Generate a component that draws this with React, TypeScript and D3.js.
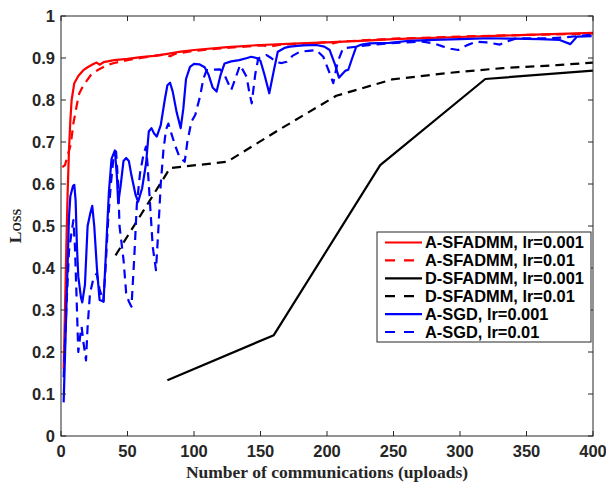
import React from "react";
import * as d3 from "d3";

const xTicks = [0, 50, 100, 150, 200, 250, 300, 350, 400];
const yTicks = [0, 0.1, 0.2, 0.3, 0.4, 0.5, 0.6, 0.7, 0.8, 0.9, 1];

const aSfadmm001: [number, number][] = [
  [2, 0.16], [3, 0.3], [4, 0.45], [5, 0.58], [6, 0.68], [7, 0.75], [8, 0.8], [10, 0.84], [13, 0.857],
  [16.8, 0.871], [20, 0.878], [24, 0.885], [26.8, 0.889], [29, 0.884], [32, 0.89], [40, 0.895], [50, 0.898],
  [60, 0.902], [70, 0.905], [80, 0.91], [90, 0.915], [100, 0.919], [125, 0.926], [150, 0.931], [175, 0.934],
  [200, 0.937], [225, 0.941], [250, 0.945], [300, 0.95], [350, 0.955], [400, 0.96],
];

const aSfadmm01: [number, number][] = [
  [1, 0.64], [3, 0.645], [5, 0.668], [7.3, 0.693], [9.3, 0.744], [12, 0.79], [13.8, 0.816], [16, 0.83],
  [18, 0.84], [23, 0.862], [28, 0.872], [34.6, 0.883], [40, 0.888], [50, 0.895], [60, 0.9], [70, 0.905],
  [78, 0.908], [82, 0.904], [86, 0.91], [100, 0.917], [125, 0.924], [150, 0.93], [158, 0.928], [165, 0.932],
  [190, 0.935], [200, 0.938], [205, 0.935], [210, 0.939], [250, 0.946], [300, 0.951], [350, 0.955], [400, 0.958],
];

const dSfadmm001: [number, number][] = [
  [80, 0.133], [160, 0.24], [240, 0.645], [319, 0.85], [400, 0.87],
];

const dSfadmm01: [number, number][] = [
  [41, 0.43], [82, 0.638], [125, 0.653], [166, 0.733], [207, 0.81], [249, 0.849], [290, 0.864],
  [332, 0.876], [373, 0.883], [400, 0.889],
];

const aSgd001: [number, number][] = [
  [2, 0.08], [4, 0.3], [6, 0.52], [7, 0.57], [9, 0.595], [10, 0.598], [11, 0.56], [12, 0.45], [13, 0.38],
  [15, 0.33], [16, 0.318], [18, 0.36], [20, 0.5], [22, 0.53], [23.5, 0.548], [25, 0.5], [27, 0.4], [29, 0.324],
  [32, 0.32], [34, 0.45], [36, 0.58], [38, 0.66], [40.5, 0.68], [42, 0.62], [43, 0.554], [45, 0.6], [47, 0.655],
  [49, 0.662], [51, 0.655], [53, 0.62], [56, 0.575], [58, 0.558], [61, 0.59], [64, 0.65], [66, 0.725], [68, 0.733],
  [70, 0.72], [72, 0.713], [75, 0.74], [78, 0.8], [80, 0.835], [82, 0.841], [84, 0.82], [87, 0.77], [90, 0.733],
  [92, 0.78], [94, 0.85], [97, 0.879], [100, 0.886], [104, 0.885], [108, 0.878], [111, 0.86], [114, 0.83],
  [117, 0.82], [120, 0.86], [123, 0.887], [128, 0.892], [134, 0.895], [140, 0.9], [143, 0.903], [147, 0.9],
  [150, 0.893], [153, 0.86], [156.6, 0.816], [160, 0.87], [163, 0.915], [168, 0.924], [172, 0.927], [182, 0.93],
  [192, 0.931], [198, 0.927], [202, 0.919], [206, 0.885], [209, 0.853], [211, 0.86], [214, 0.87], [216, 0.872],
  [219, 0.9], [222, 0.927], [226, 0.932], [232, 0.935], [247, 0.936], [262, 0.941], [280, 0.943], [300, 0.945],
  [322, 0.947], [340, 0.946], [360, 0.945], [375, 0.943], [383, 0.933], [388, 0.951], [399, 0.952],
];

const aSgd01: [number, number][] = [
  [2, 0.14], [4, 0.3], [6, 0.44], [8, 0.486], [9.3, 0.514], [10.5, 0.45], [12, 0.3], [13, 0.2], [14.5, 0.24],
  [15.5, 0.26], [17, 0.22], [18.8, 0.18], [20, 0.26], [21.8, 0.34], [24, 0.37], [26.8, 0.387], [29, 0.35],
  [31.8, 0.32], [33.5, 0.4], [35.6, 0.522], [37.5, 0.6], [39.3, 0.657], [41.4, 0.677], [43, 0.6], [44, 0.5],
  [47, 0.42], [49, 0.34], [51, 0.32], [53, 0.308], [55, 0.42], [57, 0.55], [59.4, 0.625], [62, 0.67],
  [63.9, 0.689], [65, 0.65], [67, 0.55], [69, 0.45], [71.4, 0.395], [73, 0.48], [75, 0.6], [77, 0.68],
  [79, 0.73], [80.7, 0.744], [83, 0.72], [86, 0.69], [89, 0.665], [93, 0.653], [95, 0.7], [98, 0.748],
  [101, 0.765], [104.5, 0.808], [107, 0.85], [109.5, 0.871], [114, 0.872], [119.5, 0.873], [122, 0.865],
  [124.6, 0.848], [128, 0.824], [131, 0.85], [134.6, 0.883], [137, 0.87], [139.6, 0.855], [141.5, 0.82],
  [143.4, 0.792], [146, 0.86], [148.3, 0.899], [152, 0.905], [154.6, 0.907], [158, 0.9], [162, 0.89],
  [166, 0.888], [169.7, 0.891], [174, 0.905], [179.7, 0.915], [186, 0.917], [192, 0.919], [197.2, 0.903],
  [200, 0.88], [202, 0.864], [204.7, 0.84], [208, 0.89], [212, 0.923], [222, 0.927], [235, 0.932],
  [247, 0.935], [260, 0.937], [272, 0.939], [280, 0.935], [287.5, 0.927], [293, 0.922], [298.7, 0.919],
  [305, 0.93], [312.5, 0.939], [320, 0.937], [330, 0.932], [336, 0.94], [342.6, 0.947], [355, 0.947],
  [367.7, 0.947], [377.7, 0.949], [388, 0.952], [398, 0.955],
];

const seriesNames = [
  "A-SFADMM, lr=0.001",
  "A-SFADMM, lr=0.01",
  "D-SFADMM, lr=0.001",
  "D-SFADMM, lr=0.01",
  "A-SGD, lr=0.001",
  "A-SGD, lr=0.01",
];
const seriesData = [aSfadmm001, aSfadmm01, dSfadmm001, dSfadmm01, aSgd001, aSgd01];
const seriesColors = ["#ff0000", "#ff0000", "#000000", "#000000", "#0000ff", "#0000ff"];
const seriesDashed = [false, true, false, true, false, true];

const W = 606;
const H = 483;
const L = 61;
const R = 593;
const T = 16;
const B = 436;
const AX = "#262626";
const DASH = "9,6";

export default function App() {
  const x = d3.scaleLinear().domain([0, 400]).range([L, R]);
  const y = d3.scaleLinear().domain([0, 1]).range([B, T]);
  const line = d3
    .line<[number, number]>()
    .x((d) => x(d[0]))
    .y((d) => y(d[1]));

  const tickFont = "'Liberation Sans', Arial, Helvetica, sans-serif";
  const serif = "'Liberation Serif', 'Times New Roman', serif";

  const legX = 377;
  const legY = 232;
  const legW = 214;
  const legH = 110;
  const rowY0 = 242.5;
  const rowDy = 17.9;

  return (
    <svg width={W} height={H} style={{ position: "absolute", left: 0, top: 0, background: "#fff" }}>
      <rect x={0} y={0} width={W} height={H} fill="#fff" />
      {seriesData.map((d, i) => (
        <path
          key={i}
          d={line(d) || ""}
          fill="none"
          stroke={seriesColors[i]}
          strokeWidth={2.2}
          strokeDasharray={seriesDashed[i] ? DASH : undefined}
          strokeLinejoin="round"
        />
      ))}
      <rect x={L} y={T} width={R - L} height={B - T} fill="none" stroke={AX} strokeWidth={1} />
      {xTicks.map((t) => (
        <g key={"x" + t}>
          <line x1={x(t)} x2={x(t)} y1={B} y2={B - 5} stroke={AX} />
          <line x1={x(t)} x2={x(t)} y1={T} y2={T + 5} stroke={AX} />
          <text
            x={x(t)}
            y={457}
            textAnchor="middle"
            fontFamily={tickFont}
            fontWeight="bold"
            fontSize={16.5}
            fill={AX}
          >
            {t}
          </text>
        </g>
      ))}
      {yTicks.map((t) => (
        <g key={"y" + t}>
          <line x1={L} x2={L + 5} y1={y(t)} y2={y(t)} stroke={AX} />
          <line x1={R} x2={R - 5} y1={y(t)} y2={y(t)} stroke={AX} />
          <text
            x={55}
            y={y(t) + 6}
            textAnchor="end"
            fontFamily={tickFont}
            fontWeight="bold"
            fontSize={16.5}
            fill={AX}
          >
            {String(t)}
          </text>
        </g>
      ))}
      <text
        x={(L + R) / 2}
        y={478}
        textAnchor="middle"
        fontFamily={serif}
        fontWeight="bold"
        fontSize={17.5}
        fill={AX}
      >
        Number of communications (uploads)
      </text>
      <text
        transform={`translate(21, ${(T + B) / 2}) rotate(-90)`}
        textAnchor="middle"
        fontFamily={serif}
        fontWeight="bold"
        fontSize={17.5}
        fill={AX}
        style={{ fontVariant: "small-caps" }}
      >
        Loss
      </text>
      <rect x={legX} y={legY} width={legW} height={legH} fill="#fff" stroke={AX} strokeWidth={1} />
      {seriesNames.map((n, i) => {
        const ry = rowY0 + i * rowDy;
        return (
          <g key={n}>
            <line
              x1={385}
              x2={422}
              y1={ry}
              y2={ry}
              stroke={seriesColors[i]}
              strokeWidth={2.2}
              strokeDasharray={seriesDashed[i] ? "10,9" : undefined}
            />
            <text
              x={425}
              y={ry + 5.8}
              fontFamily={tickFont}
              fontWeight="bold"
              fontSize={16.4}
              fill="#000"
            >
              {n}
            </text>
          </g>
        );
      })}
    </svg>
  );
}
